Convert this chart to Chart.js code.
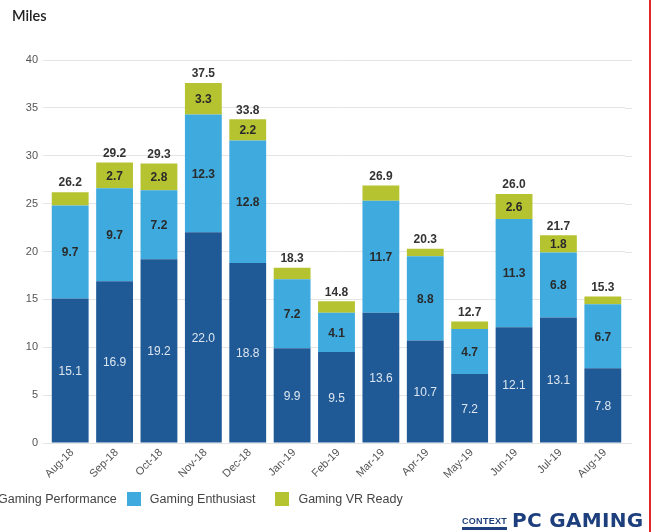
<!DOCTYPE html>
<html>
<head>
<meta charset="utf-8">
<script src="https://cdn.jsdelivr.net/npm/chart.js@4/dist/chart.umd.min.js"></script>
<style>
  html, body { margin:0; padding:0; background:#fff; width:654px; height:532px; overflow:hidden; }
  #wrap { position:relative; width:654px; height:532px; }
  #c { position:absolute; left:0; top:0; }
  #miles { position:absolute; left:12px; top:7px; font:600 14.5px Lato, "Open Sans", sans-serif; color:#222; }
  #legend { position:absolute; left:-25px; top:492px; display:flex; align-items:center; font:12.5px "Liberation Sans", Arial, sans-serif; color:#444; white-space:nowrap; }
  #legend .item { display:flex; align-items:center; }
  #legend .sw { width:14px; height:14px; margin-right:9px; }
  #redline { position:absolute; left:649px; top:0; width:2px; height:532px; background:#e2262b; }
  #logo { position:absolute; left:462px; top:511px; display:flex; align-items:flex-end; color:#1e3f7d; white-space:nowrap; }
  #logo .ctx { font:700 9px "Liberation Sans", Arial, sans-serif; letter-spacing:0.3px; border-bottom:3px solid #1e3f7d; padding-bottom:1px; margin-right:5px; line-height:9px; }
  #logo .pc { font:700 20px "DejaVu Sans", sans-serif; letter-spacing:0.3px; line-height:19px; }
</style>
</head>
<body>
<div id="wrap">
  <canvas id="c" width="654" height="532"></canvas>
  <div id="miles">Miles</div>
  <div id="legend"></div>
  <div id="logo"><span class="ctx">CONTEXT</span><span class="pc">PC GAMING</span></div>
  <div id="redline"></div>
</div>
<script>
// categories and values
const months = ['Aug-18','Sep-18','Oct-18','Nov-18','Dec-18','Jan-19','Feb-19','Mar-19','Apr-19','May-19','Jun-19','Jul-19','Aug-19'];
const performance = [15.1, 16.9, 19.2, 22.0, 18.8, 9.9, 9.5, 13.6, 10.7, 7.2, 12.1, 13.1, 7.8];
const enthusiast  = [9.7, 9.7, 7.2, 12.3, 12.8, 7.2, 4.1, 11.7, 8.8, 4.7, 11.3, 6.8, 6.7];
const vrReady     = [1.4, 2.7, 2.8, 3.3, 2.2, 1.2, 1.2, 1.6, 0.8, 0.8, 2.6, 1.8, 0.8];
const totals      = [26.2, 29.2, 29.3, 37.5, 33.8, 18.3, 14.8, 26.9, 20.3, 12.7, 26.0, 21.7, 15.3];
const seriesNames = ['Gaming Performance', 'Gaming Enthusiast', 'Gaming VR Ready'];
const seriesColors = ['#1f5a96', '#3eaadd', '#b6c331'];

const tickFont = { family: '"Liberation Sans", Arial, sans-serif', size: 11 };
const legendGaps = [10, 20, 0];

// legend as html
const lg = document.getElementById('legend');
seriesNames.forEach(function(n, i) {
  const it = document.createElement('div');
  it.className = 'item';
  it.style.marginRight = legendGaps[i] + 'px';
  it.innerHTML = '<span class="sw" style="background:' + seriesColors[i] + '"></span>' + n;
  lg.appendChild(it);
});

// values inside the segments + totals on top
const barLabels = {
  id: 'barLabels',
  afterDatasetsDraw(chart) {
    const ctx = chart.ctx;
    ctx.save();
    ctx.textAlign = 'center';
    ctx.textBaseline = 'middle';
    chart.data.datasets.forEach(function(ds, i) {
      const meta = chart.getDatasetMeta(i);
      meta.data.forEach(function(bar, j) {
        const v = ds.data[j];
        if (v < ds.minLabel) return;
        ctx.font = ds.labelFont;
        ctx.fillStyle = ds.labelColor;
        ctx.fillText(v.toFixed(1), bar.x, (bar.y + bar.base) / 2 + 1);
      });
    });
    const top = chart.getDatasetMeta(2);
    ctx.font = 'bold 12px "Liberation Sans", Arial, sans-serif';
    ctx.fillStyle = '#333';
    top.data.forEach(function(bar, j) {
      ctx.fillText(totals[j].toFixed(1), bar.x, bar.y - 9);
    });
    ctx.restore();
  }
};

// gridlines run a little past the right edge of the plot
const gridExtend = {
  id: 'gridExtend',
  beforeDatasetsDraw(chart) {
    const y = chart.scales.y, a = chart.chartArea, ctx = chart.ctx;
    ctx.save();
    ctx.strokeStyle = '#e4e4e4';
    ctx.lineWidth = 1;
    y.ticks.forEach(function(t) {
      const py = Math.round(y.getPixelForValue(t.value)) + 0.5;
      ctx.beginPath();
      ctx.moveTo(a.right, py);
      ctx.lineTo(a.right + 7, py);
      ctx.stroke();
    });
    ctx.restore();
  }
};

new Chart(document.getElementById('c'), {
  type: 'bar',
  data: {
    labels: months,
    datasets: [
      { label: seriesNames[0], data: performance, backgroundColor: seriesColors[0],
        labelColor: '#dde6f0', labelFont: '12px "Liberation Sans", Arial, sans-serif', minLabel: 0 },
      { label: seriesNames[1], data: enthusiast, backgroundColor: seriesColors[1],
        labelColor: '#2a2a2a', labelFont: 'bold 12px "Liberation Sans", Arial, sans-serif', minLabel: 0 },
      { label: seriesNames[2], data: vrReady, backgroundColor: seriesColors[2],
        labelColor: '#2a2a2a', labelFont: 'bold 12px "Liberation Sans", Arial, sans-serif', minLabel: 1.8 }
    ]
  },
  options: {
    responsive: false,
    animation: false,
    devicePixelRatio: 1,
    layout: { padding: { left: 0, right: 29, top: 60, bottom: 0 } },
    datasets: { bar: { barPercentage: 0.83, categoryPercentage: 1 } },
    plugins: { legend: { display: false }, tooltip: { enabled: false } },
    scales: {
      x: {
        stacked: true,
        grid: { display: false },
        border: { display: false },
        ticks: { color: '#555', font: tickFont, minRotation: 45, maxRotation: 45, padding: -5, labelOffset: 2 },
        afterFit: function(s) { s.height = 89; }
      },
      y: {
        stacked: true,
        min: 0, max: 40,
        border: { display: false },
        grid: { color: '#e4e4e4', tickLength: 5, tickColor: '#e4e4e4' },
        ticks: { stepSize: 5, color: '#555', font: tickFont, padding: 5 },
        afterFit: function(s) { s.width = 48; }
      }
    }
  },
  plugins: [barLabels, gridExtend]
});
</script>
</body>
</html>
